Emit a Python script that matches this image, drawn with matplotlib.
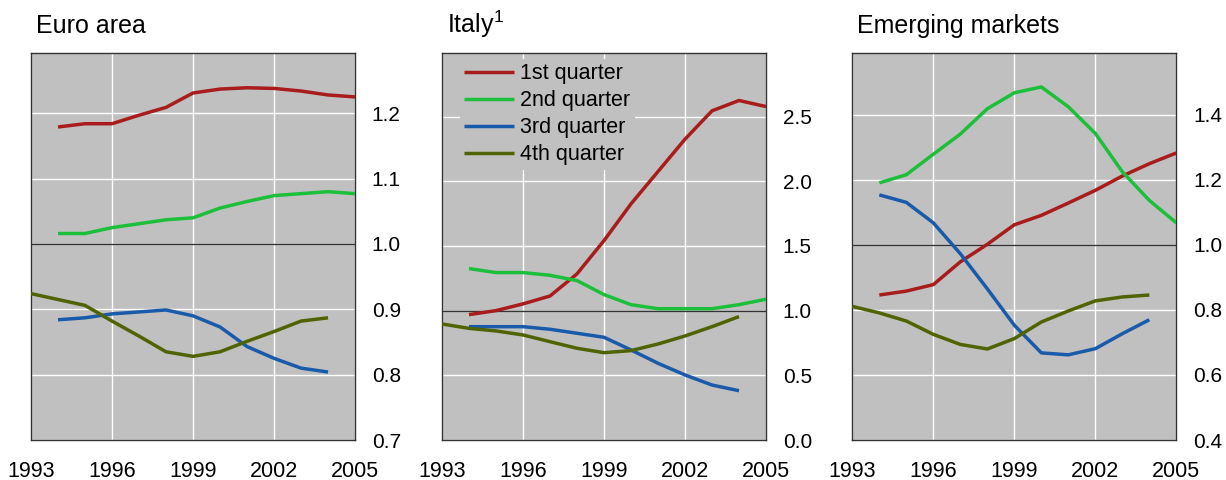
import matplotlib.pyplot as plt

plt.rcParams['font.family'] = ['Liberation Sans', 'DejaVu Sans']

years = list(range(1993, 2006))
y94 = years[1:]          # 1994-2005
y94_04 = years[1:12]     # 1994-2004
y93_04 = years[:12]      # 1993-2004

# Euro area
euro_q1 = [1.179, 1.184, 1.184, 1.197, 1.209, 1.231, 1.237, 1.239, 1.238, 1.234, 1.228, 1.225]
euro_q2 = [1.016, 1.016, 1.025, 1.031, 1.037, 1.040, 1.055, 1.065, 1.074, 1.077, 1.080, 1.077]
euro_q3 = [0.884, 0.887, 0.893, 0.896, 0.899, 0.890, 0.873, 0.843, 0.825, 0.810, 0.804]
euro_q4 = [0.924, 0.915, 0.906, 0.882, 0.859, 0.835, 0.828, 0.835, 0.851, 0.866, 0.882, 0.887]

# Italy
italy_q1 = [0.969, 1.000, 1.052, 1.113, 1.284, 1.541, 1.825, 2.075, 2.325, 2.544, 2.624, 2.577]
italy_q2 = [1.325, 1.294, 1.294, 1.273, 1.232, 1.124, 1.046, 1.015, 1.015, 1.015, 1.046, 1.088]
italy_q3 = [0.876, 0.876, 0.876, 0.856, 0.825, 0.794, 0.696, 0.593, 0.503, 0.425, 0.381]
italy_q4 = [0.897, 0.863, 0.843, 0.812, 0.760, 0.709, 0.675, 0.691, 0.742, 0.804, 0.876, 0.954]

# Emerging markets
em_q1 = [0.846, 0.858, 0.878, 0.948, 1.002, 1.062, 1.091, 1.129, 1.168, 1.212, 1.250, 1.283]
em_q2 = [1.191, 1.216, 1.279, 1.341, 1.419, 1.468, 1.486, 1.425, 1.343, 1.225, 1.137, 1.068]
em_q3 = [1.154, 1.131, 1.068, 0.973, 0.865, 0.753, 0.668, 0.662, 0.681, 0.727, 0.770]
em_q4 = [0.811, 0.791, 0.766, 0.725, 0.694, 0.680, 0.712, 0.763, 0.797, 0.828, 0.840, 0.846]

labels = ['1st quarter', '2nd quarter', '3rd quarter', '4th quarter']
colors = ['#a81c1c', '#1cbf3a', '#1a5aab', '#4f6400']
xticks = [1993, 1996, 1999, 2002, 2005]

panels = [
    ('Euro area', (euro_q1, euro_q2, euro_q3, euro_q4), (0.7, 1.292), [0.7, 0.8, 0.9, 1.0, 1.1, 1.2]),
    ('Italy$^{\\mathregular{1}}$', (italy_q1, italy_q2, italy_q3, italy_q4), (0.0, 2.99), [0.0, 0.5, 1.0, 1.5, 2.0, 2.5]),
    ('Emerging markets', (em_q1, em_q2, em_q3, em_q4), (0.4, 1.59), [0.4, 0.6, 0.8, 1.0, 1.2, 1.4]),
]
xs = [y94, y94, y94_04, y93_04]
lefts = [0.0253, 0.3605, 0.6952]

fig = plt.figure(figsize=(12.26, 4.8), dpi=100)

for i, (title, series, ylim, yticks) in enumerate(panels):
    ax = fig.add_axes([lefts[i], 0.0833, 0.2643, 0.806])
    ax.set_facecolor('#c0c0c0')
    for x, s, c, lab in zip(xs, series, colors, labels):
        ax.plot(x, s, color=c, lw=2.5, label=lab, zorder=3, solid_capstyle='butt')
    ax.axhline(1.0, color='#333333', lw=1.0, zorder=2)
    ax.set_xlim(1993, 2005)
    ax.set_ylim(*ylim)
    ax.set_xticks(xticks)
    ax.set_yticks(yticks)
    ax.set_yticklabels(['{:.1f}'.format(v) for v in yticks])
    ax.grid(True, color='white', lw=1.0, zorder=1)
    ax.yaxis.tick_right()
    ax.tick_params(axis='y', length=0, pad=12, labelsize=15)
    ax.tick_params(axis='x', length=0, pad=15, labelsize=15.5)
    for sp in ax.spines.values():
        sp.set_color('#333333')
        sp.set_linewidth(1.0)
    ax.text(0.015, 1.052, title, transform=ax.transAxes, fontsize=18, va='baseline', ha='left')
    if i == 1:
        leg = ax.legend(loc='upper left', bbox_to_anchor=(0.055, 0.985), frameon=True,
                        fontsize=15.5, handlelength=2.3, handletextpad=0.3,
                        labelspacing=0.28, borderpad=0.2, borderaxespad=0)
        leg.get_frame().set_facecolor('#c0c0c0')
        leg.get_frame().set_edgecolor('none')
        leg.get_frame().set_alpha(1.0)
        leg.set_zorder(4)

fig.savefig('out.png', dpi=100)
